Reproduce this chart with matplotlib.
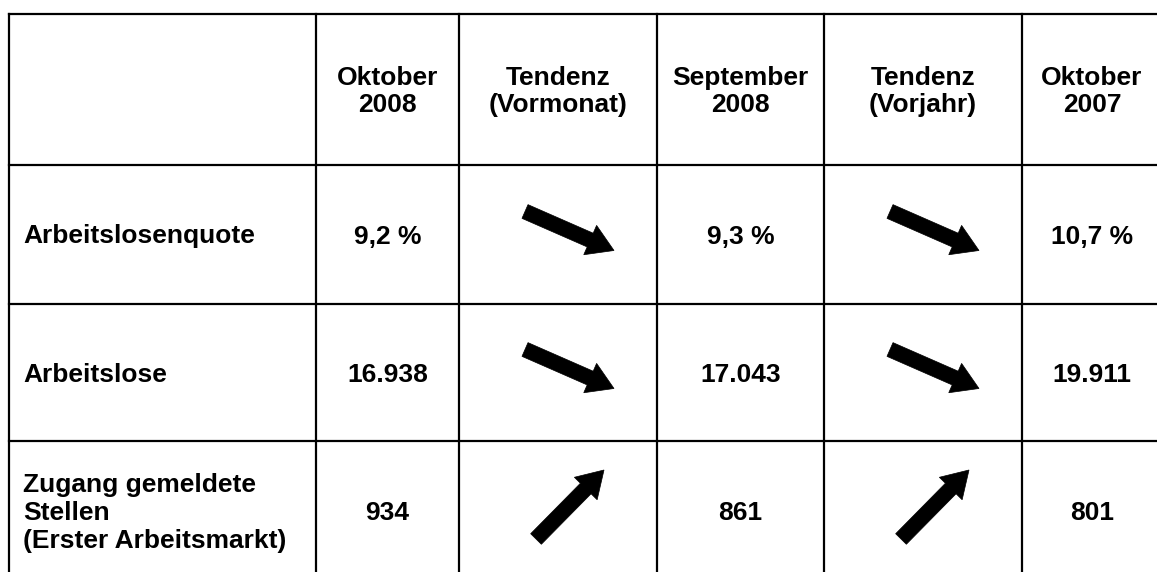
import matplotlib.pyplot as plt
from matplotlib.patches import FancyArrow

# table content
header = ["", "Oktober\n2008", "Tendenz\n(Vormonat)", "September\n2008", "Tendenz\n(Vorjahr)", "Oktober\n2007"]
row_labels = ["Arbeitslosenquote", "Arbeitslose", "Zugang gemeldete\nStellen\n(Erster Arbeitsmarkt)"]
okt_2008 = ["9,2 %", "16.938", "934"]
sep_2008 = ["9,3 %", "17.043", "861"]
okt_2007 = ["10,7 %", "19.911", "801"]
trend_vormonat = ["down", "down", "up"]
trend_vorjahr = ["down", "down", "up"]

# layout in pixels (table runs past the right/bottom edge of the picture)
col_edges = [9, 316, 459, 657, 824, 1022, 1162]
row_edges = [14, 165, 304, 441, 581]
W, H = 1157, 572

# arrow tail/tip offsets from the cell centre
arrow_shape = {
    "down": ((-33, -23), (56, 16)),
    "up": ((-22, 28), (46, -41)),
}

plt.rcParams['font.family'] = ['Liberation Sans', 'DejaVu Sans']
fig = plt.figure(figsize=(W / 100, H / 100), dpi=100)
ax = fig.add_axes([0, 0, 1, 1])
ax.set_xlim(0, W)
ax.set_ylim(H, 0)
ax.axis('off')

lw = 1.6
for y in row_edges:
    ax.plot([col_edges[0], col_edges[-1]], [y, y], color='black', lw=lw, solid_capstyle='projecting')
for x in col_edges:
    ax.plot([x, x], [row_edges[0], row_edges[-1]], color='black', lw=lw, solid_capstyle='projecting')

fs = 19


def cx(i):
    return (col_edges[i] + col_edges[i + 1]) / 2


def cy(j):
    return (row_edges[j] + row_edges[j + 1]) / 2


for i, h in enumerate(header):
    if h:
        ax.text(cx(i), cy(0) + 2, h, ha='center', va='center', fontsize=fs,
                fontweight='bold', linespacing=1.2)

for j, lab in enumerate(row_labels):
    r = j + 1
    ax.text(col_edges[0] + 14, cy(r) + 2, lab, ha='left', va='center', fontsize=fs,
            fontweight='bold', linespacing=1.2)
    for i, vals in [(1, okt_2008), (3, sep_2008), (5, okt_2007)]:
        ax.text(cx(i), cy(r) + 2, vals[j], ha='center', va='center', fontsize=fs, fontweight='bold')
    for i, trend in [(2, trend_vormonat), (4, trend_vorjahr)]:
        (tx, ty), (hx, hy) = arrow_shape[trend[j]]
        x0, y0 = cx(i) + tx, cy(r) + ty
        arr = FancyArrow(x0, y0, hx - tx, hy - ty, width=15, head_width=32,
                         head_length=26, length_includes_head=True,
                         color='black', lw=0.5)
        ax.add_patch(arr)

fig.savefig('out.png', dpi=100, facecolor='white')
